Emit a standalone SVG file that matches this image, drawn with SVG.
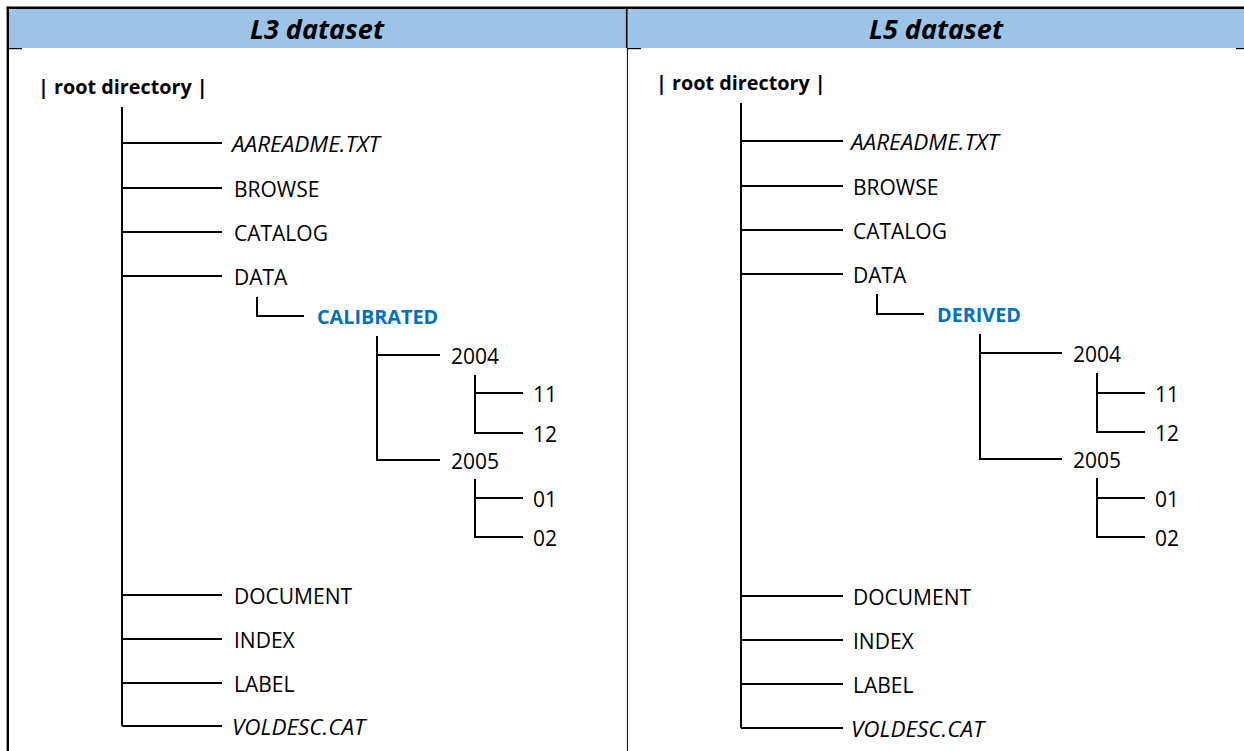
<svg xmlns="http://www.w3.org/2000/svg" width="1244" height="751" viewBox="0 0 1244 751">
<style>
.t{font-family:"Open Sans","Liberation Sans",sans-serif;font-size:21px;fill:#000;dominant-baseline:central}
.i{font-style:italic;font-size:22.5px}
.b{font-weight:bold;font-size:19.8px}
.blue{fill:#0070C0}
.h{font-family:"Open Sans","Liberation Sans",sans-serif;font-size:27px;font-weight:bold;font-style:italic;fill:#000;text-anchor:middle}
.c{fill:none;stroke:#000;stroke-width:2}
.f{stroke:#000;fill:none}
</style>
<rect width="1244" height="751" fill="#fff"/>
<g id="frame">
<rect x="8" y="8" width="1236" height="40" fill="#9DC3E6"/>
<line class="f" x1="6.7" y1="7.8" x2="1244" y2="7.8" stroke-width="2.4"/>
<line class="f" x1="7.8" y1="6.7" x2="7.8" y2="751" stroke-width="2.4"/>
<line class="f" x1="626.7" y1="8" x2="626.7" y2="48" stroke-width="1.6"/>
<line class="f" x1="627.4" y1="48" x2="627.4" y2="751" stroke-width="1"/>
<line class="f" x1="8" y1="48.6" x2="22" y2="48.6" stroke-width="1.2"/>
<line class="f" x1="627" y1="48.6" x2="641" y2="48.6" stroke-width="1.2"/>
<line class="f" x1="1236" y1="48.6" x2="1244" y2="48.6" stroke-width="1.2"/>
</g>
<g id="header-l3"><text class="h" x="317" y="39">L3 dataset</text></g>
<g id="header-l5"><text class="h" x="936" y="39">L5 dataset</text></g>
<g id="connectors">
<path class="c" d="M122 107V726M122 143H222M122 188H222M122 232H222M122 276H222M122 595H222M122 639H222M122 683H222M122 726H222"/>
<path class="c" d="M257 297V316H304"/>
<path class="c" d="M377 336V460H440M377 355H440"/>
<path class="c" d="M475 375V433H523M475 393H523"/>
<path class="c" d="M475 479V537H523M475 498H523"/>
<path class="c" d="M741 103V728M741 141H843M741 186H843M741 230H843M741 274H843M741 596H843M741 640H843M741 684H843M741 728H843"/>
<path class="c" d="M877 294V314H924"/>
<path class="c" d="M980 334V459H1062M980 353H1062"/>
<path class="c" d="M1097 373V432H1145M1097 393H1145"/>
<path class="c" d="M1097 478V537H1145M1097 498H1145"/>
</g>
<g id="l3-root"><text class="t b" x="38" y="86.5">| root directory |</text></g>
<g id="l3-aareadme"><text class="t i" x="232" y="143.5">AAREADME.TXT</text></g>
<g id="l3-browse"><text class="t" x="234" y="188.5">BROWSE</text></g>
<g id="l3-catalog"><text class="t" x="234" y="232.5">CATALOG</text></g>
<g id="l3-data"><text class="t" x="234" y="276.5">DATA</text></g>
<g id="l3-calibrated"><text class="t b blue" x="317" y="316.5">CALIBRATED</text></g>
<g id="l3-2004"><text class="t" x="451" y="355.5">2004</text></g>
<g id="l3-11"><text class="t" x="533" y="393.5">11</text></g>
<g id="l3-12"><text class="t" x="533" y="433.5">12</text></g>
<g id="l3-2005"><text class="t" x="451" y="460.5">2005</text></g>
<g id="l3-01"><text class="t" x="533" y="498.5">01</text></g>
<g id="l3-02"><text class="t" x="533" y="537.5">02</text></g>
<g id="l3-document"><text class="t" x="234" y="595.5">DOCUMENT</text></g>
<g id="l3-index"><text class="t" x="234" y="639.5">INDEX</text></g>
<g id="l3-label"><text class="t" x="234" y="683.5">LABEL</text></g>
<g id="l3-voldesc"><text class="t i" x="232" y="726.5">VOLDESC.CAT</text></g>
<g id="l5-root"><text class="t b" x="656" y="82.5">| root directory |</text></g>
<g id="l5-aareadme"><text class="t i" x="851" y="141.5">AAREADME.TXT</text></g>
<g id="l5-browse"><text class="t" x="853" y="186.5">BROWSE</text></g>
<g id="l5-catalog"><text class="t" x="853" y="230.5">CATALOG</text></g>
<g id="l5-data"><text class="t" x="853" y="274.5">DATA</text></g>
<g id="l5-derived"><text class="t b blue" x="937" y="314.5">DERIVED</text></g>
<g id="l5-2004"><text class="t" x="1073" y="353.5">2004</text></g>
<g id="l5-11"><text class="t" x="1155" y="393.5">11</text></g>
<g id="l5-12"><text class="t" x="1155" y="432.5">12</text></g>
<g id="l5-2005"><text class="t" x="1073" y="459.5">2005</text></g>
<g id="l5-01"><text class="t" x="1155" y="498.5">01</text></g>
<g id="l5-02"><text class="t" x="1155" y="537.5">02</text></g>
<g id="l5-document"><text class="t" x="853" y="596.5">DOCUMENT</text></g>
<g id="l5-index"><text class="t" x="853" y="640.5">INDEX</text></g>
<g id="l5-label"><text class="t" x="853" y="684.5">LABEL</text></g>
<g id="l5-voldesc"><text class="t i" x="851" y="728.5">VOLDESC.CAT</text></g>
</svg>
